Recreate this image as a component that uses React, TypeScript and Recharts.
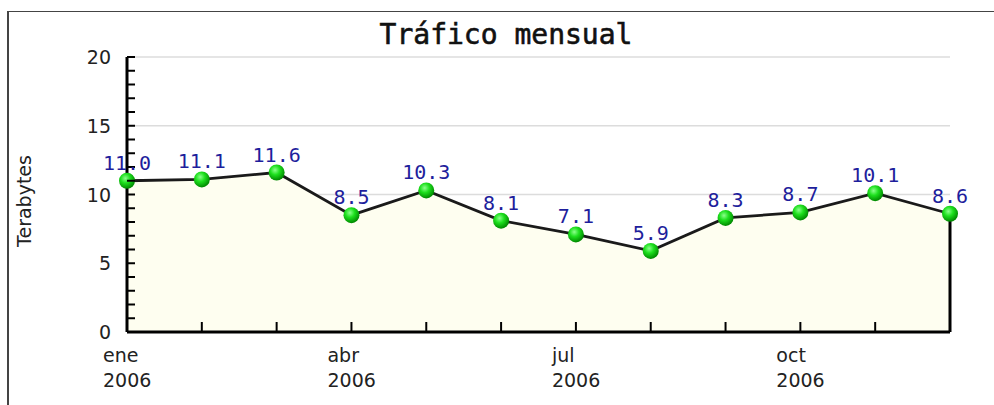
import React from "react";
import {
  AreaChart,
  Area,
  XAxis,
  YAxis,
  CartesianGrid,
  ReferenceLine,
  LabelList,
} from "recharts";

const months = ["ene", "feb", "mar", "abr", "may", "jun", "jul", "ago", "sep", "oct", "nov", "dic"];
const traffic = [11.0, 11.1, 11.6, 8.5, 10.3, 8.1, 7.1, 5.9, 8.3, 8.7, 10.1, 8.6];
const monthLabels = ["ene", "", "", "abr", "", "", "jul", "", "", "oct", "", ""];
const yearLabel = "2006";
const yTicks = [0, 1, 2, 3, 4, 5, 6, 7, 8, 9, 10, 11, 12, 13, 14, 15, 16, 17, 18, 19, 20];
const yLabelTicks = [0, 5, 10, 15, 20];
const gridValues = [5, 10, 15, 20];

const chartData = months.map((m, i) => ({ month: m, tb: traffic[i] }));

const SANS = "'DejaVu Sans', Verdana, sans-serif";
const MONO = "'DejaVu Sans Mono', monospace";

function XTick({ x, y, payload }: any) {
  const label = monthLabels[payload.index];
  return (
    <g>
      <line x1={x} y1={y} x2={x} y2={y - 10} stroke="#000" strokeWidth={2} />
      {label && (
        <text x={x - 24} y={y + 30} textAnchor="start" fontFamily={SANS} fontSize={19} fill="#222">
          <tspan x={x - 24}>{label}</tspan>
          <tspan x={x - 24} dy={25}>{yearLabel}</tspan>
        </text>
      )}
    </g>
  );
}

function YTick({ x, y, payload }: any) {
  const show = yLabelTicks.includes(payload.value);
  return (
    <g>
      <line x1={x} y1={y} x2={x + 8} y2={y} stroke="#000" strokeWidth={2} />
      {show && (
        <text x={x - 16} y={y + 7} textAnchor="end" fontFamily={SANS} fontSize={19} fill="#222">
          {payload.value}
        </text>
      )}
    </g>
  );
}

function Ball({ cx, cy }: any) {
  if (cx == null || cy == null) return null;
  return <circle cx={cx} cy={cy} r={8} fill="url(#greenBall)" />;
}

function ValueLabel({ x, y, value }: any) {
  return (
    <text x={x} y={y - 11} textAnchor="middle" fontFamily={MONO} fontSize={20} fill="#1e1e9c">
      {Number(value).toFixed(1)}
    </text>
  );
}

export default function App() {
  const last = chartData.length - 1;
  return (
    <div style={{ position: "absolute", left: 0, top: 0, width: 994, height: 405, overflow: "hidden", background: "#fff" }}>
      <svg width={0} height={0} style={{ position: "absolute" }}>
        <defs>
          <radialGradient id="greenBall" cx="40%" cy="35%" r="65%">
            <stop offset="0%" stopColor="#8cff8c" />
            <stop offset="45%" stopColor="#1ee01e" />
            <stop offset="100%" stopColor="#008a00" />
          </radialGradient>
        </defs>
      </svg>
      <div
        style={{
          position: "absolute",
          left: 7,
          top: 11,
          width: 987,
          height: 394,
          borderTop: "1px solid #444",
          borderLeft: "2px solid #444",
          boxSizing: "border-box",
        }}
      />
      <svg width={994} height={405} style={{ position: "absolute", left: 0, top: 0 }}>
        <text
          x={506}
          y={44}
          textAnchor="middle"
          fontFamily={MONO}
          fontSize={28}
          fill="#111"
          stroke="#111"
          strokeWidth={0.6}
        >
          Tráfico mensual
        </text>
        <text
          transform="translate(31, 201) rotate(-90)"
          textAnchor="middle"
          fontFamily={SANS}
          fontSize={19}
          fill="#222"
        >
          Terabytes
        </text>
      </svg>
      <div style={{ position: "absolute", left: 0, top: 0 }}>
        <AreaChart width={994} height={405} data={chartData} margin={{ top: 57, right: 44, bottom: 43, left: 67 }}>
          <CartesianGrid vertical={false} horizontalValues={gridValues} stroke="#dcdcdc" strokeWidth={1.5} />
          <XAxis
            dataKey="month"
            scale="point"
            padding={{ left: 0, right: 0 }}
            height={30}
            interval={0}
            tickSize={0}
            tickMargin={0}
            tickLine={false}
            axisLine={{ stroke: "#000", strokeWidth: 3 }}
            tick={<XTick />}
          />
          <YAxis
            domain={[0, 20]}
            ticks={yTicks}
            interval={0}
            width={60}
            tickSize={0}
            tickMargin={0}
            tickLine={false}
            axisLine={{ stroke: "#000", strokeWidth: 3 }}
            tick={<YTick />}
          />
          <Area
            type="linear"
            dataKey="tb"
            stroke="#1a1a1a"
            strokeWidth={2.8}
            fill="#fefef0"
            fillOpacity={1}
            dot={<Ball />}
            activeDot={false}
            isAnimationActive={false}
          >
            <LabelList dataKey="tb" content={<ValueLabel />} />
          </Area>
          <ReferenceLine
            segment={[
              { x: months[last], y: 0 },
              { x: months[last], y: traffic[last] },
            ]}
            stroke="#000"
            strokeWidth={3}
          />
        </AreaChart>
      </div>
    </div>
  );
}
